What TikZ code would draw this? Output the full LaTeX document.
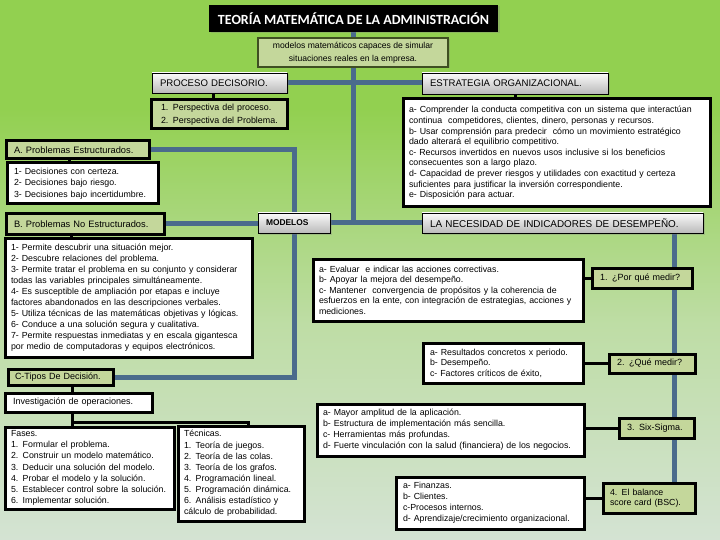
\documentclass[tikz,border=0pt]{standalone}
\usepackage{fontspec}
\setmainfont{Liberation Sans}
\newfontfamily\titlefont{Carlito}
\usetikzlibrary{shadows,calc}
\hyphenpenalty=10000
\exhyphenpenalty=10000
\definecolor{bgA}{HTML}{DDE5EF}
\definecolor{bgB}{HTML}{D4E3D3}
\definecolor{bgC}{HTML}{BEDDA5}
\definecolor{bgD}{HTML}{92D050}
\definecolor{conn}{HTML}{4A6B8C}
\definecolor{boxgreen}{HTML}{C4D79B}
\definecolor{subborder}{HTML}{3F4F22}
\pgfdeclareverticalshading{bgsh}{100bp}{color(0bp)=(bgA); color(12bp)=(bgA); color(25bp)=(bgB); color(45bp)=(bgC); color(65bp)=(bgD); color(94bp)=(bgD); color(100bp)=(white)}
\pgfdeclarelayer{back}
\pgfdeclarelayer{lines}
\pgfsetlayers{back,lines,main}
\begin{document}
\begin{tikzpicture}[x=1pt,y=-1pt,
  base/.style={rectangle, inner ysep=0pt, anchor=center, align=left,
    drop shadow={opacity=0.3,shadow xshift=1.5pt,shadow yshift=-1.5pt}},
  graybox/.style={base, draw=black, line width=0.8pt, top color=white!96!gray,
    bottom color=black!27, font=\fontsize{9.6}{11}\selectfont},
  greenbox/.style={base, draw=black, line width=3pt, fill=boxgreen, font=\fontsize{9.3}{11}\selectfont},
  whitebox/.style={base, draw=black, line width=3pt, fill=white, font=\fontsize{8.8}{11}\selectfont},
  bl/.style={draw=conn, line width=5pt},
  kl/.style={draw=black, line width=3pt},
]
\useasboundingbox (0,0) rectangle (720,540);
\begin{pgfonlayer}{back}
\shade[shading=bgsh] (0,0) rectangle (720,540);
\end{pgfonlayer}

% title and subtitle
\node[base, fill=black, minimum width=289pt, minimum height=27pt, text=white, align=center,
  font=\titlefont\bfseries\fontsize{14}{16}\selectfont] (title) at (353.5,18.5)
  {TEORÍA MATEMÁTICA DE LA ADMINISTRACIÓN};
\node[base, draw=subborder, line width=1.2pt, fill=boxgreen, minimum width=190pt, minimum height=29pt,
  align=center, font=\fontsize{8.6}{12.5}\selectfont] (sub) at (353,52.5)
  {modelos matemáticos capaces de simular\\situaciones reales en la empresa.};

% gray boxes
\node[graybox, minimum width=135pt, minimum height=20pt, inner xsep=8pt, text width=119pt] (proc) at (219.5,83) {PROCESO DECISORIO.};
\node[graybox, minimum width=186pt, minimum height=21pt, inner xsep=8pt, text width=170pt] (estr) at (515,83.5) {ESTRATEGIA ORGANIZACIONAL.};
\node[graybox, minimum width=72pt, minimum height=20pt, inner xsep=8pt, text width=56pt, font=\bfseries\fontsize{8.4}{10}\selectfont] (mod) at (294,223) {MODELOS};
\node[graybox, minimum width=281pt, minimum height=20pt, inner xsep=8pt, text width=265pt, font=\fontsize{9.9}{11}\selectfont] (nec) at (562.5,223) {LA NECESIDAD DE INDICADORES DE DESEMPEÑO.};

% left column
\node[greenbox, minimum width=136pt, minimum height=29pt, inner xsep=7pt, text width=122pt, font=\fontsize{8.9}{13}\selectfont] (persp) at (219,114.5)
  {\hspace*{3pt}1. Perspectiva del proceso.\\\hspace*{3pt}2. Perspectiva del Problema.};
\node[whitebox, minimum width=307pt, minimum height=108pt, inner xsep=6pt, text width=295pt, font=\fontsize{8.8}{10.6}\selectfont] (etx) at (556.5,153)
  {a- Comprender la conducta competitiva con un sistema que interactúan\\
   continua\ \ competidores, clientes, dinero, personas y recursos.\\
   b- Usar comprensión para predecir\ \ cómo un movimiento estratégico\\
   dado alterará el equilibrio competitivo.\\
   c- Recursos invertidos en nuevos usos inclusive si los beneficios\\
   consecuentes son a largo plazo.\\
   d- Capacidad de prever riesgos y utilidades con exactitud y certeza\\
   suficientes para justificar la inversión correspondiente.\\
   e- Disposición para actuar.};
\node[greenbox, minimum width=143pt, minimum height=18pt, inner xsep=8pt, text width=127pt] (pa) at (77.5,150) {A. Problemas Estructurados.};
\node[whitebox, minimum width=151pt, minimum height=41pt, inner xsep=7pt, text width=137pt, font=\fontsize{8.8}{11.5}\selectfont] (atx) at (82.5,183.5)
  {1- Decisiones con certeza.\\2- Decisiones bajo riesgo.\\3- Decisiones bajo incertidumbre.};
\node[greenbox, minimum width=158pt, minimum height=20pt, inner xsep=8pt, text width=142pt] (pb) at (85,224) {B. Problemas No Estructurados.};
\node[whitebox, minimum width=247pt, minimum height=119pt, inner xsep=6pt, text width=235pt] (btx) at (128.5,297.5)
  {1- Permite descubrir una situación mejor.\\
   2- Descubre relaciones del problema.\\
   3- Permite tratar el problema en su conjunto y considerar\\
   todas las variables principales simultáneamente.\\
   4- Es susceptible de ampliación por etapas e incluye\\
   factores abandonados en las descripciones verbales.\\
   5- Utiliza técnicas de las matemáticas objetivas y lógicas.\\
   6- Conduce a una solución segura y cualitativa.\\
   7- Permite respuestas inmediatas y en escala gigantesca\\
   por medio de computadoras y equipos electrónicos.};
\node[greenbox, minimum width=105pt, minimum height=16pt, inner xsep=7pt, text width=91pt, font=\fontsize{9}{11}\selectfont] (pc) at (60.5,377) {C-Tipos De Decisión.};
\node[whitebox, minimum width=147pt, minimum height=19pt, inner xsep=8pt, text width=131pt, font=\fontsize{9}{11}\selectfont] (inv) at (78.5,402.5) {Investigación de operaciones.};
\node[whitebox, minimum width=169pt, minimum height=82pt, inner xsep=6pt, text width=157pt, font=\fontsize{8.8}{11.2}\selectfont] (fases) at (89.5,468)
  {Fases.\\1. Formular el problema.\\2. Construir un modelo matemático.\\3. Deducir una solución del modelo.\\4. Probar el modelo y la solución.\\5. Establecer control sobre la solución.\\6. Implementar solución.};
\node[whitebox, minimum width=126pt, minimum height=95pt, inner xsep=6pt, text width=114pt, font=\fontsize{8.8}{11.1}\selectfont] (tec) at (241,473.5)
  {Técnicas.\\1. Teoría de juegos.\\2. Teoría de las colas.\\3. Teoría de los grafos.\\4. Programación lineal.\\5. Programación dinámica.\\6. Análisis estadístico y\\cálculo de probabilidad.};

% right column
\node[greenbox, minimum width=100pt, minimum height=20pt, inner xsep=8pt, text width=84pt, font=\fontsize{9}{11}\selectfont] (q1) at (642,278) {1. ¿Por qué medir?};
\node[whitebox, minimum width=270pt, minimum height=62pt, inner xsep=6pt, text width=258pt, font=\fontsize{8.8}{10.5}\selectfont] (t1) at (448,290)
  {a- Evaluar\ \ e indicar las acciones correctivas.\\
   b- Apoyar la mejora del desempeño.\\
   c- Mantener\ \ convergencia de propósitos y la coherencia de\\
   esfuerzos en la ente, con integración de estrategias, acciones y\\
   mediciones.};
\node[greenbox, minimum width=86pt, minimum height=19pt, inner xsep=8pt, text width=70pt, font=\fontsize{9}{11}\selectfont] (q2) at (652,363.5) {2. ¿Qué medir?};
\node[whitebox, minimum width=160pt, minimum height=40pt, inner xsep=7pt, text width=146pt, font=\fontsize{8.8}{10.5}\selectfont] (t2) at (503,363)
  {a- Resultados concretos x periodo.\\b- Desempeño.\\c- Factores críticos de éxito,};
\node[greenbox, minimum width=75pt, minimum height=20pt, inner xsep=8pt, text width=59pt, font=\fontsize{9}{11}\selectfont] (q3) at (656.5,428) {3. Six-Sigma.};
\node[whitebox, minimum width=267pt, minimum height=52pt, inner xsep=6pt, text width=255pt, font=\fontsize{8.8}{11}\selectfont] (t3) at (450.5,430)
  {a- Mayor amplitud de la aplicación.\\
   b- Estructura de implementación más sencilla.\\
   c- Herramientas más profundas.\\
   d- Fuerte vinculación con la salud (financiera) de los negocios.};
\node[greenbox, minimum width=92pt, minimum height=30pt, inner xsep=7pt, text width=78pt, font=\fontsize{8.8}{10.5}\selectfont] (q4) at (649,498) {4. El balance\\score card (BSC).};
\node[whitebox, minimum width=188pt, minimum height=52pt, inner xsep=7pt, text width=174pt, font=\fontsize{8.8}{11}\selectfont] (t4) at (490,503)
  {a- Finanzas.\\b- Clientes.\\c-Procesos internos.\\d- Aprendizaje/crecimiento organizacional.};

% helper coordinates
\coordinate (axb) at (353.5,224);
\coordinate (vx) at (674,0);
\coordinate (xk1) at (213,0);
\coordinate (xk2) at (69,0);
\coordinate (xk3) at (71,0);
\coordinate (xk4) at (72,0);
\coordinate (xk5) at (248,0);
\coordinate (brk) at (72,422);

\begin{pgfonlayer}{lines}
\draw[bl] (title.south) -- (axb);
\draw[bl] (proc.east) -- (proc.east -| estr.west);
\draw[bl] (pa.east) -| (mod.north);
\draw[bl] (mod.south) |- (pc.east);
\draw[bl] (pb.east) -- (pb.east -| mod.west);
\draw[bl] (mod.east) -- (mod.east -| nec.west);
\draw[bl] (nec.south -| vx) -- (q4.north -| vx);
\draw[kl] (proc.south -| xk1) -- (persp.north -| xk1);
\draw[kl] (estr.south) -- (estr.south |- etx.north);
\draw[kl] (pa.south -| xk2) -- (atx.north -| xk2);
\draw[kl] (pb.south -| xk3) -- (btx.north -| xk3);
\draw[kl] (pc.south -| xk4) -- (inv.north -| xk4);
\draw[kl] (inv.south -| xk4) -- (fases.north -| xk4);
\draw[kl] (brk) -| (tec.north -| xk5);
\draw[kl] (q1.west -| t1.east) -- (q1.west);
\draw[kl] (q2.west -| t2.east) -- (q2.west);
\draw[kl] (q3.west -| t3.east) -- (q3.west);
\draw[kl] (q4.west -| t4.east) -- (q4.west);
\end{pgfonlayer}
\end{tikzpicture}
\end{document}
